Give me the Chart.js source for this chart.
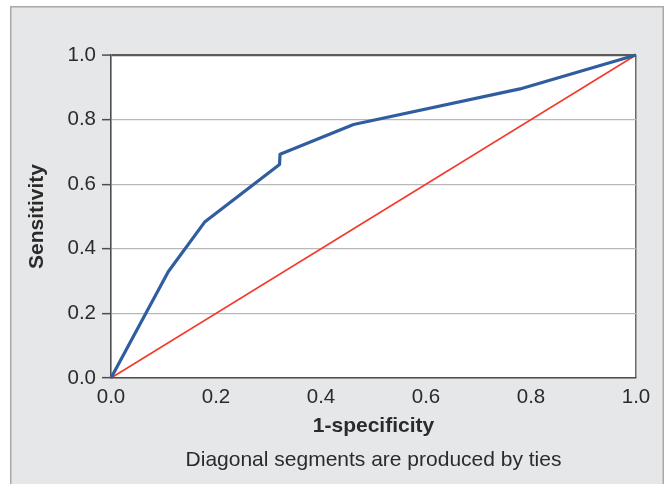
<!DOCTYPE html>
<html>
<head>
<meta charset="utf-8">
<script src="https://cdn.jsdelivr.net/npm/chart.js@4/dist/chart.umd.min.js"></script>
<style>
  html, body { margin: 0; padding: 0; background: #fff; }
  #wrap { position: relative; width: 668px; height: 484px; }
</style>
</head>
<body>
<div id="wrap"><canvas id="c" width="668" height="484"></canvas></div>
<script>
// ---- data ----
const rocFpr = [0, 0.109, 0.179, 0.321, 0.322, 0.462, 0.779, 1.0];
const rocTpr = [0, 0.329, 0.484, 0.661, 0.693, 0.785, 0.895, 1.0];
const refFpr = [0, 1.0];
const refTpr = [0, 1.0];
const tickValues = [0, 0.2, 0.4, 0.6, 0.8, 1.0];
const xTitle = '1-specificity';
const yTitle = 'Sensitivity';
const caption = 'Diagonal segments are produced by ties';

const FONT = '"Liberation Sans", Arial, Helvetica, sans-serif';
const TEXT = '#2b2b2b';

const toPts = (xs, ys) => xs.map((x, i) => ({ x: x, y: ys[i] }));

const framePlugin = {
  id: 'frame',
  beforeDraw(chart) {
    const { ctx, chartArea: a } = chart;
    ctx.save();
    ctx.fillStyle = '#ffffff';
    ctx.fillRect(0, 0, chart.width, chart.height);
    ctx.fillStyle = '#e6e7e8';
    ctx.fillRect(10, 6, 654, 500);
    ctx.strokeStyle = '#a9a9a9';
    ctx.lineWidth = 1.5;
    ctx.strokeRect(10.75, 6.75, 652.5, 500);
    ctx.fillStyle = '#ffffff';
    ctx.fillRect(a.left, a.top, a.right - a.left, a.bottom - a.top);
    ctx.restore();
  },
  afterDraw(chart) {
    const { ctx, chartArea: a } = chart;
    ctx.save();
    ctx.font = '21px ' + FONT;
    ctx.fillStyle = TEXT;
    ctx.textAlign = 'center';
    ctx.textBaseline = 'alphabetic';
    ctx.fillText(caption, (a.left + a.right) / 2, 466);
    ctx.restore();
  }
};

new Chart(document.getElementById('c'), {
  type: 'scatter',
  data: {
    datasets: [
      {
        label: 'ROC',
        data: toPts(rocFpr, rocTpr),
        showLine: true,
        borderColor: '#2f5d9f',
        borderWidth: 3.2,
        pointRadius: 0,
        tension: 0,
        borderJoinStyle: 'round',
        fill: false,
        clip: 3
      },
      {
        label: 'Reference',
        data: toPts(refFpr, refTpr),
        showLine: true,
        borderColor: '#f4392b',
        borderWidth: 1.5,
        pointRadius: 0,
        tension: 0,
        fill: false,
        clip: 3
      }
    ]
  },
  options: {
    responsive: false,
    animation: false,
    devicePixelRatio: 1,
    layout: { padding: { left: 12, top: 55, right: 32, bottom: 0 } },
    plugins: {
      legend: { display: false },
      tooltip: { enabled: false }
    },
    scales: {
      x: {
        type: 'linear',
        min: 0, max: 1,
        afterBuildTicks: (s) => { s.ticks = tickValues.map(v => ({ value: v })); },
        afterFit: (s) => { s.height = 106; },
        ticks: {
          padding: 7,
          color: TEXT,
          font: { family: FONT, size: 20.5 },
          callback: (v) => Number(v).toFixed(1),
          maxRotation: 0
        },
        grid: {
          drawTicks: false,
          color: (c) => (c.tick && c.tick.value === 1 ? '#6a6a6a' : 'rgba(0,0,0,0)'),
          lineWidth: 1.5
        },
        border: { display: true, color: '#4d4d4d', width: 1.6 },
        title: {
          display: true,
          text: xTitle,
          color: TEXT,
          font: { family: FONT, size: 21, weight: 'bold' },
          padding: { top: 0, bottom: 45.4 }
        }
      },
      y: {
        type: 'linear',
        min: 0, max: 1,
        afterBuildTicks: (s) => { s.ticks = tickValues.map(v => ({ value: v })); },
        afterFit: (s) => { s.width = 99; },
        ticks: {
          padding: 6,
          color: TEXT,
          font: { family: FONT, size: 20.5 },
          callback: (v) => Number(v).toFixed(1)
        },
        grid: {
          drawTicks: true,
          tickLength: 9,
          tickColor: '#4d4d4d',
          tickWidth: 1.5,
          color: (c) => (c.tick && c.tick.value === 1 ? '#5a5a5a' : '#b8b8b8'),
          lineWidth: (c) => (c.tick && c.tick.value === 1 ? 2.2 : 1.3)
        },
        border: { display: true, color: '#4d4d4d', width: 1.6 },
        title: {
          display: true,
          text: yTitle,
          color: TEXT,
          font: { family: FONT, size: 21, weight: 'bold' },
          padding: { top: 13.1, bottom: 0 }
        }
      }
    }
  },
  plugins: [framePlugin]
});
</script>
</body>
</html>
